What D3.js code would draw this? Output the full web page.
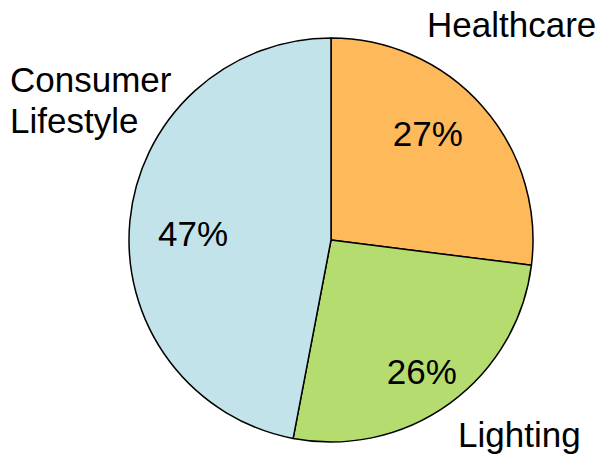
<!DOCTYPE html>
<html>
<head>
<meta charset="utf-8">
<script src="https://cdn.jsdelivr.net/npm/d3@7"></script>
<style>
  body { margin: 0; background: #fff; }
  text { font-family: "Liberation Sans", Arial, sans-serif; font-size: 35px; fill: #000; }
</style>
</head>
<body>
<div id="chart"></div>
<script>
// data
const categories = ["Healthcare", "Lighting", "Consumer Lifestyle"];
const shares = [27, 26, 47];
const colors = ["#FEB95A", "#B5DC6F", "#C3E3EB"];

// layout
const width = 607, height = 461;
const cx = 331, cy = 240, radius = 202;

// outer category labels (x, y of first baseline)
const outerLabels = {
  "Healthcare": { x: 427, y: 37, lines: ["Healthcare"] },
  "Lighting": { x: 458, y: 447, lines: ["Lighting"] },
  "Consumer Lifestyle": { x: 10, y: 92, lines: ["Consumer", "Lifestyle"] }
};
// percent labels: distance from centre and angle shift (deg) from slice bisector
const pctPlace = [{ r: 144, shift: -6.4 }, { r: 160, shift: 1.4 }, { r: 138, shift: -2.9 }];

const data = categories.map((c, i) => ({ category: c, value: shares[i] }));
const colorScale = d3.scaleOrdinal().domain(categories).range(colors);

const pie = d3.pie().value(d => d.value).sort(null);
const arcs = pie(data);
const arc = d3.arc().innerRadius(0).outerRadius(radius);

const svg = d3.select("#chart").append("svg").attr("width", width).attr("height", height);
const g = svg.append("g").attr("transform", `translate(${cx},${cy})`);

g.selectAll("path")
  .data(arcs)
  .join("path")
  .attr("d", arc)
  .attr("fill", d => colorScale(d.data.category))
  .attr("stroke", "#000")
  .attr("stroke-width", 1.5)
  .attr("stroke-linejoin", "round");

// percentages inside slices
g.selectAll("text.pct")
  .data(arcs)
  .join("text")
  .attr("class", "pct")
  .attr("text-anchor", "middle")
  .attr("dy", "0.35em")
  .attr("transform", (d, i) => {
    const a = (d.startAngle + d.endAngle) / 2 + pctPlace[i].shift * Math.PI / 180;
    const x = Math.sin(a) * pctPlace[i].r;
    const y = -Math.cos(a) * pctPlace[i].r;
    return `translate(${x},${y})`;
  })
  .text(d => d.data.value + "%");

// category labels
categories.forEach(c => {
  const l = outerLabels[c];
  const t = svg.append("text").attr("x", l.x).attr("y", l.y);
  l.lines.forEach((line, j) => {
    t.append("tspan").attr("x", l.x).attr("dy", j === 0 ? 0 : 41).text(line);
  });
});
</script>
</body>
</html>
